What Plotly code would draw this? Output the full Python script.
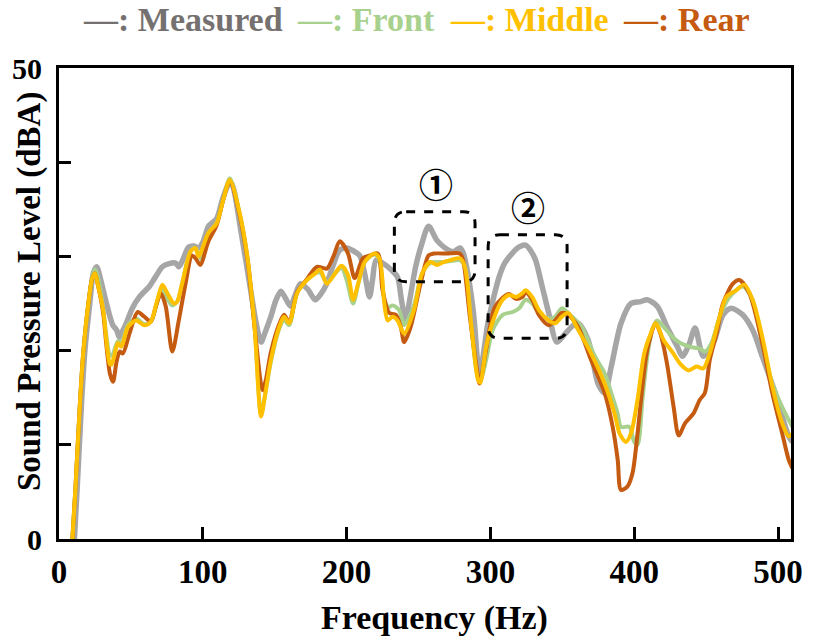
import plotly.graph_objects as go

# Sound pressure level spectra (frequency in Hz, level in dBA)
measured_hz = [10, 12.5, 15.8, 18, 21.4, 24, 26.2, 29, 33, 37.4, 40, 42, 44, 46.8, 51, 55.9, 62.8, 67,
               71.9, 76, 81, 83.3, 86, 90.2, 94, 97, 100, 103.9, 106, 109.6, 114.2, 118.8, 121, 126.7,
               133.6, 137, 140.5, 143, 147.3, 150.5, 154.2, 157, 161, 164, 167.9, 173, 178.2, 182,
               186.2, 190, 195.3, 200, 203.4, 209, 212.5, 215.9, 218, 220.5, 225, 230.8, 235.4, 238,
               241, 244, 248, 252, 257, 262.8, 268.5, 274.2, 278.8, 281, 283.4, 288, 292.5, 295, 298.2,
               302, 306, 310, 315, 320, 324.5, 328, 331.4, 336, 340.5, 346.2, 352, 357, 361, 368, 374.8,
               379.4, 384, 390.8, 397.7, 404.5, 409, 416, 422.8, 430, 433.4, 438, 442.3, 448, 455,
               461.7, 467.4, 475.4, 482.3, 489, 498, 507.4, 510]
measured_db = [-2, 5, 14.8, 20, 25, 28.3, 28.9, 27.5, 25, 22.7, 22.2, 21.4, 22.0, 22.9, 24.5, 25.7, 26.8,
               27.8, 28.9, 29.2, 29.3, 28.9, 29.6, 31.0, 31.1, 30.9, 31.5, 33.2, 33.5, 34.0, 36.3, 37.9,
               37.4, 32.5, 26.1, 23.0, 20.9, 21.8, 23.6, 25.2, 26.3, 25.7, 24.7, 25.8, 27.1, 26.5, 25.4,
               26.0, 27.1, 28.8, 30.7, 30.9, 30.7, 30.1, 28.2, 25.7, 27.5, 29.6, 29.3, 28.6, 27.8, 25.5,
               23.2, 25.5, 28.9, 31.2, 33.2, 31.7, 30.9, 30.5, 30.9, 30.4, 28.9, 24.3, 17.2, 19.5, 22.9,
               25.5, 27.8, 29.3, 30.3, 31.0, 31.2, 30.6, 29.6, 26.8, 24.0, 20.9, 21.8, 22.6, 22.9, 21.1,
               16.5, 15.5, 18.3, 22.9, 25.0, 25.2, 25.4, 24.7, 22.5, 20.4, 19.4, 20.6, 22.4, 19.4, 20.8,
               23.8, 24.5, 23.8, 22.2, 19.4, 15.5, 10.9, 10.3]

front_hz = [8.5, 11.3, 14.7, 17, 20.4, 23, 25, 27, 30.7, 33, 35.5, 37, 41, 43.3, 47.9, 53.6, 59.3, 63.9,
            68.4, 71.9, 75.3, 78.7, 82.2, 85.6, 91.4, 94.8, 99.3, 103.9, 109.6, 114.2, 118.8, 125.6,
            131.3, 136, 140.5, 143, 147.3, 153.1, 156.5, 160, 165.6, 172.5, 178.2, 181.6, 186.2, 192,
            196.5, 200, 204.5, 208, 212.5, 219.3, 222.8, 226.2, 229, 232, 236.5, 240, 246.8, 252.5,
            258.2, 262.8, 267.4, 272, 278.8, 282.2, 286.8, 291.4, 293, 297, 301.6, 308.5, 315.4, 320,
            324.5, 329, 333.7, 340.5, 345, 349.7, 354, 363.4, 372.6, 379.4, 384, 388.5, 390.8, 396.6,
            400, 402.3, 405.7, 409.1, 412.5, 415.9, 420.5, 426.3, 432, 438.9, 445.7, 449.1, 453.7,
            459.4, 466.3, 475.4, 482.3, 489, 496, 502.9, 510]
front_db = [-2, 5, 14.8, 20, 25, 27.8, 28.6, 27.8, 24.5, 21.5, 19.5, 19.5, 21.0, 20.8, 22.7, 23.4, 22.8,
            23.1, 25.2, 26.6, 25.5, 24.8, 25.2, 27.1, 30.5, 30.9, 29.6, 32.3, 33.6, 36.1, 38.3, 34.6,
            29.6, 22.5, 13.3, 15.0, 18.8, 22.3, 23.3, 22.7, 26.1, 27.5, 28.2, 28.3, 27.2, 28.2, 28.8,
            27.5, 25.0, 27.0, 29.4, 30.2, 29.6, 25.5, 24.6, 24.8, 24.3, 22.7, 24.8, 28.2, 29.3, 29.4,
            29.4, 29.5, 29.6, 28.9, 22.5, 17.0, 16.8, 19.0, 22.2, 23.8, 24.1, 24.5, 25.4, 25.0, 24.0,
            23.4, 23.6, 24.5, 24.0, 22.5, 19.4, 17.6, 15.5, 13.3, 11.9, 11.9, 10.3, 10.0, 14.8, 19.4,
            22.2, 23.2, 22.5, 21.5, 20.8, 20.4, 20.2, 19.9, 20.8, 23.6, 25.7, 26.8, 25.4, 20.8, 16.5,
            14.0, 11.9]

middle_hz = [8.5, 11.3, 14.7, 17, 20.4, 23, 25, 27, 30.7, 33, 35.3, 36.5, 38.5, 41, 43.3, 47.9, 53.6,
             59.3, 63.9, 68.4, 71.9, 75.3, 79.9, 82.2, 85.6, 91.4, 94.8, 97, 103.9, 109.6, 114.2, 118.8,
             125.6, 131.3, 136, 140.5, 143.5, 147.3, 153.1, 156.5, 160, 165.6, 172.5, 178.2, 181.6,
             186.2, 192, 196.5, 201, 204.5, 208, 212.5, 219.3, 222.8, 226.2, 228.5, 232, 235.4, 240,
             246.8, 252.5, 258.2, 262.8, 267.4, 272, 278.8, 282.2, 286.8, 291.4, 293, 297, 302.8, 308.5,
             313, 317.7, 322.2, 324.5, 329, 333.7, 340.5, 345, 349.7, 354, 361, 370, 379.4, 386.3,
             389.8, 394.2, 397.7, 402.3, 406.9, 411.4, 414.8, 420.5, 426.3, 432, 437.7, 443.4, 448,
             452.5, 459.4, 464, 470.8, 476.5, 482.3, 489, 496, 502.9, 507.4, 510]
middle_db = [-2, 5, 14.8, 20, 25, 27.6, 28.2, 27.0, 24.3, 21.0, 18.6, 18.5, 19.5, 20.8, 20.4, 22.5, 23.2,
             22.7, 23.1, 25.4, 27.0, 26.1, 25.0, 25.2, 27.1, 30.5, 30.9, 30.0, 32.5, 33.5, 36.0, 38.1,
             34.6, 29.6, 22.5, 13.0, 15.5, 19.0, 22.5, 23.6, 22.9, 26.1, 27.5, 28.2, 28.6, 27.1, 28.2,
             29.0, 28.0, 25.4, 27.1, 29.4, 30.3, 29.8, 25.0, 23.2, 23.6, 23.2, 21.8, 24.3, 28.2, 29.4,
             29.1, 29.4, 29.6, 29.8, 28.9, 22.5, 16.9, 16.6, 20.4, 23.6, 25.4, 25.9, 25.7, 26.1, 26.4,
             25.7, 24.3, 23.2, 22.9, 23.6, 24.0, 22.2, 19.7, 16.5, 13.3, 11.2, 10.3, 11.2, 14.8, 19.7,
             21.8, 22.9, 21.1, 19.9, 18.6, 17.9, 18.3, 18.1, 19.7, 23.6, 25.7, 26.4, 27.0, 25.4, 21.5,
             16.2, 12.3, 10.9, 11.2]

rear_hz = [8.5, 11.3, 14.7, 17, 20.4, 23, 25, 27, 30.7, 33, 35.5, 37.6, 40, 42.2, 44.4, 49, 54.7, 59.3,
           63.9, 67, 70.8, 74.2, 78.8, 83.3, 88, 92.5, 95, 98.2, 103.9, 109.6, 114.2, 118.8, 125.6,
           131.3, 136, 141.6, 144, 147.3, 153.1, 156.5, 160, 165.6, 172.5, 179.3, 186.2, 190.8, 195.3,
           201, 205.6, 211.4, 216, 221.7, 225, 229.6, 234.2, 237.7, 240, 244.5, 251.4, 257, 260.5,
           269.7, 278.8, 281, 285.7, 290.3, 292.5, 297, 302.8, 308.5, 313, 317.7, 322.2, 324.5, 329,
           333.7, 340.5, 345, 349.7, 354, 361, 370, 379.4, 385, 388.5, 390.8, 395.4, 398.8, 402.3,
           405.7, 409.1, 414.8, 418.2, 422.8, 427.4, 430.9, 435.4, 441.1, 445.7, 449.1, 452.5, 457.2,
           461.7, 468.6, 473.1, 480, 489, 496, 502.9, 507.4, 510]
rear_db = [-2, 5, 14.8, 20, 25, 27.6, 28.2, 27.0, 24.0, 20.5, 17.5, 16.7, 18.8, 19.9, 19.7, 21.8, 24.1,
           23.6, 23.1, 24.5, 26.1, 24.7, 19.9, 23.2, 27.1, 30.1, 29.8, 29.1, 31.6, 33.3, 36.0, 38.0,
           34.4, 29.4, 22.5, 15.8, 17.0, 19.8, 22.8, 23.8, 23.0, 26.2, 27.6, 28.9, 28.7, 30.0, 31.6,
           30.3, 27.7, 29.8, 30.1, 30.3, 26.4, 24.0, 23.8, 22.5, 20.9, 22.5, 27.1, 30.1, 30.3, 30.3,
           30.3, 29.6, 23.6, 18.3, 16.5, 20.1, 24.5, 25.6, 26.0, 25.5, 25.7, 26.2, 25.4, 23.8, 22.7,
           23.2, 24.0, 23.8, 22.5, 19.0, 15.5, 11.9, 8.4, 5.2, 5.6, 7.0, 11.2, 16.2, 20.1, 22.9, 21.8,
           18.6, 14.0, 11.0, 12.3, 13.3, 14.8, 15.5, 19.0, 21.8, 25.0, 27.1, 27.5, 26.1, 20.8, 15.5,
           11.2, 8.4, 7.5]

series = [
    ("Measured", measured_hz, measured_db, "#a6a6a6", 5.5),
    ("Front", front_hz, front_db, "#a9d18e", 4),
    ("Rear", rear_hz, rear_db, "#c55a11", 4),
    ("Middle", middle_hz, middle_db, "#ffc000", 4),
]

# legend entries: label, text colour, left edge (paper x)
legend_items = [
    ("—: Measured", "#767171", 0.030),
    ("—: Front", "#a9d18e", 0.322),
    ("—: Middle", "#ffc000", 0.532),
    ("—: Rear", "#c55a11", 0.768),
]

x_ticks = [0, 100, 200, 300, 400, 500]
y_ticks = [0, 10, 20, 30, 40, 50]
y_ticktext = ["0", "", "", "", "", "50"]

# highlighted frequency bands: (x0, x1, y0, y1, label)
highlight_boxes = [
    (233.2, 289.3, 27.3, 34.75, "①"),
    (298.4, 353.3, 21.3, 32.3, "②"),
]

serif = "Liberation Serif"

fig = go.Figure()
for name, xs, ys, color, width in series:
    fig.add_trace(go.Scatter(
        x=xs, y=ys, name=name, mode="lines",
        line=dict(color=color, width=width, shape="spline", smoothing=0.8),
        showlegend=False,
    ))

rx, ry = 8.2, 1.27
for x0, x1, y0, y1, label in highlight_boxes:
    path = (f"M {x0 + rx},{y1} L {x1 - rx},{y1} Q {x1},{y1} {x1},{y1 - ry} "
            f"L {x1},{y0 + ry} Q {x1},{y0} {x1 - rx},{y0} L {x0 + rx},{y0} "
            f"Q {x0},{y0} {x0},{y0 + ry} L {x0},{y1 - ry} Q {x0},{y1} {x0 + rx},{y1} Z")
    fig.add_shape(type="path", path=path, xref="x", yref="y",
                  line=dict(color="black", width=3, dash="dash"))
    fig.add_annotation(x=(x0 + x1) / 2 + 0.6, y=y1 + 0.15, xref="x", yref="y", text=label,
                       showarrow=False, yanchor="bottom",
                       font=dict(family="Noto Sans CJK JP", size=34, color="black", weight="bold"))

for text, color, xpos in legend_items:
    fig.add_annotation(x=xpos, y=1.102, xref="paper", yref="paper", text=text,
                       showarrow=False, xanchor="left", yanchor="middle",
                       font=dict(family=serif, size=34, color=color, weight="bold"))

fig.add_annotation(x=0.513, y=-0.168, xref="paper", yref="paper", text="Frequency (Hz)",
                   showarrow=False, xanchor="center", yanchor="middle",
                   font=dict(family=serif, size=34, color="black", weight="bold"))
fig.add_annotation(x=-0.041, y=0.5265, xref="paper", yref="paper",
                   text="Sound Pressure Level (dBA)", textangle=-90,
                   showarrow=False, xanchor="center", yanchor="middle",
                   font=dict(family=serif, size=33, color="black", weight="bold"))

axis_common = dict(
    showline=True, linewidth=3, linecolor="black", mirror=True,
    ticks="inside", ticklen=12, tickwidth=3, tickcolor="black",
    showgrid=False, zeroline=False,
)
fig.update_xaxes(range=[0, 509], tickvals=x_ticks, ticklabelstandoff=1,
                 tickfont=dict(family=serif, size=33, color="black", weight="bold"),
                 **axis_common)
fig.update_yaxes(range=[0, 50], tickvals=y_ticks, ticktext=y_ticktext, ticklabelstandoff=8,
                 tickfont=dict(family=serif, size=30, color="black", weight="bold"),
                 **axis_common)

fig.update_layout(
    width=815, height=644,
    margin=dict(l=55, r=18, t=68, b=105),
    paper_bgcolor="white", plot_bgcolor="white",
)

fig.write_html("out.html")
